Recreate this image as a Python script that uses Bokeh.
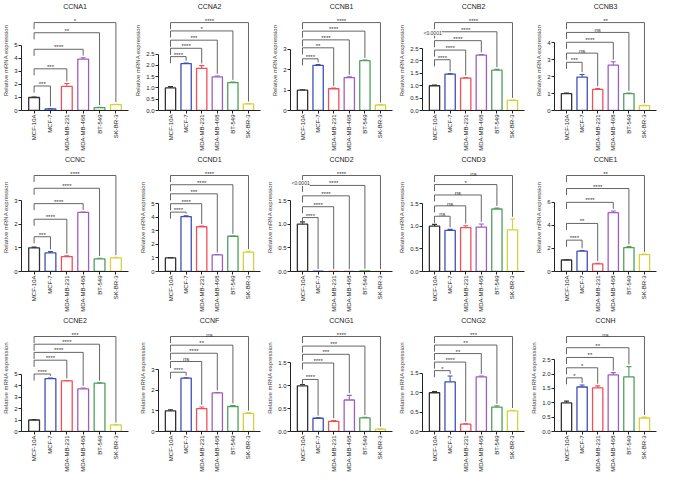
import math
from bokeh.plotting import figure
from bokeh.layouts import gridplot
from bokeh.models import (ColumnDataSource, FixedTicker, NumeralTickFormatter,
                          Label, Range1d, FactorRange)
from bokeh.core.properties import value
from bokeh.embed import file_html
from bokeh.resources import INLINE

cell_lines = ["MCF-10A", "MCF-7", "MDA-MB-231", "MDA-MB-468", "BT-549", "SK-BR-3"]
colors = ["#333333", "#3e4fb8", "#f24e54", "#9d5fbf", "#4ea05a", "#d6d23c"]

genes = ["CCNA1", "CCNA2", "CCNB1", "CCNB2", "CCNB3",
         "CCNC", "CCND1", "CCND2", "CCND3", "CCNE1",
         "CCNE2", "CCNF", "CCNG1", "CCNG2", "CCNH"]

values = {
    "CCNA1": [1.0, 0.12, 1.85, 3.95, 0.22, 0.45],
    "CCNA2": [1.0, 2.08, 1.87, 1.49, 1.24, 0.29],
    "CCNB1": [1.0, 2.22, 1.07, 1.62, 2.45, 0.27],
    "CCNB2": [1.0, 1.47, 1.31, 2.24, 1.63, 0.41],
    "CCNB3": [1.0, 1.97, 1.24, 2.67, 1.0, 0.29],
    "CCNC":  [1.0, 0.79, 0.63, 2.5, 0.53, 0.58],
    "CCND1": [1.0, 4.05, 3.3, 1.22, 2.6, 1.43],
    "CCND2": [1.0, 0.005, 0.004, 0.003, 0.012, 0.003],
    "CCND3": [1.0, 0.91, 0.97, 0.98, 1.38, 0.92],
    "CCNE1": [1.0, 1.76, 0.67, 5.1, 2.08, 1.47],
    "CCNE2": [1.0, 4.59, 4.41, 3.7, 4.2, 0.57],
    "CCNF":  [1.0, 2.58, 1.11, 1.87, 1.21, 0.88],
    "CCNG1": [1.0, 0.29, 0.22, 0.69, 0.3, 0.05],
    "CCNG2": [1.0, 1.28, 0.19, 1.41, 0.63, 0.53],
    "CCNH":  [1.0, 1.55, 1.52, 1.97, 1.9, 0.47],
}

errors = {
    "CCNA1": [0.03, 0.02, 0.22, 0.10, 0.03, 0.03],
    "CCNA2": [0.06, 0.03, 0.12, 0.04, 0.02, 0.01],
    "CCNB1": [0.02, 0.04, 0.03, 0.03, 0.03, 0.01],
    "CCNB2": [0.03, 0.02, 0.02, 0.02, 0.03, 0.01],
    "CCNB3": [0.03, 0.15, 0.06, 0.20, 0.03, 0.01],
    "CCNC":  [0.03, 0.05, 0.03, 0.01, 0.03, 0.02],
    "CCND1": [0.02, 0.06, 0.05, 0.03, 0.02, 0.06],
    "CCND2": [0.05, 0.0, 0.0, 0.0, 0.0, 0.0],
    "CCND3": [0.04, 0.02, 0.04, 0.07, 0.02, 0.24],
    "CCNE1": [0.02, 0.06, 0.04, 0.15, 0.08, 0.05],
    "CCNE2": [0.03, 0.06, 0.02, 0.08, 0.03, 0.01],
    "CCNF":  [0.05, 0.02, 0.08, 0.02, 0.05, 0.03],
    "CCNG1": [0.03, 0.01, 0.02, 0.10, 0.01, 0.01],
    "CCNG2": [0.03, 0.15, 0.01, 0.02, 0.03, 0.02],
    "CCNH":  [0.06, 0.07, 0.07, 0.08, 0.36, 0.03],
}

y_max = {"CCNA1": 5, "CCNA2": 2.5, "CCNB1": 3, "CCNB2": 2.5, "CCNB3": 4,
         "CCNC": 3, "CCND1": 5, "CCND2": 1.5, "CCND3": 1.5, "CCNE1": 6,
         "CCNE2": 5, "CCNF": 3, "CCNG1": 1.5, "CCNG2": 1.5, "CCNH": 2.5}
y_step = {"CCNA1": 1, "CCNA2": 0.5, "CCNB1": 1, "CCNB2": 0.5, "CCNB3": 1,
          "CCNC": 1, "CCND1": 1, "CCND2": 0.5, "CCND3": 0.5, "CCNE1": 2,
          "CCNE2": 1, "CCNF": 1, "CCNG1": 0.5, "CCNG2": 0.5, "CCNH": 0.5}

# significance vs MCF-10A for MCF-7, MDA-MB-231, MDA-MB-468, BT-549, SK-BR-3
sig_labels = {
    "CCNA1": ["***", "***", "****", "**", "*"],
    "CCNA2": ["****", "****", "***", "*", "****"],
    "CCNB1": ["****", "**", "****", "****", "****"],
    "CCNB2": ["****", "****", "****", "****", "****"],
    "CCNB3": ["***", "ns", "****", "ns", "**"],
    "CCNC":  ["***", "****", "****", "****", "****"],
    "CCND1": ["****", "****", "***", "****", "****"],
    "CCND2": ["****", "****", "****", "****", "****"],
    "CCND3": ["ns", "ns", "ns", "*", "ns"],
    "CCNE1": ["****", "**", "****", "****", "**"],
    "CCNE2": ["****", "****", "****", "****", "***"],
    "CCNF":  ["****", "ns", "****", "**", "ns"],
    "CCNG1": ["****", "****", "***", "***", "****"],
    "CCNG2": ["*", "****", "**", "**", "***"],
    "CCNH":  ["*", "*", "**", "**", "ns"],
}
sig_heights = {
    "CCNA1": [1.88, 3.2, 4.7, 5.97, 6.75],
    "CCNA2": [2.39, 2.76, 3.12, 3.53, 3.9],
    "CCNB1": [2.54, 3.08, 3.47, 3.9, 4.32],
    "CCNB2": [2.05, 2.44, 2.82, 3.18, 3.55],
    "CCNB3": [2.84, 3.38, 4.02, 4.6, 5.18],
    "CCNC":  [1.47, 2.21, 2.87, 3.52, 4.06],
    "CCND1": [4.38, 5.0, 5.73, 6.4, 7.08],
    "CCND2": [1.14, 1.37, 1.6, 1.82, 2.03],
    "CCND3": [1.22, 1.45, 1.69, 1.92, 2.12],
    "CCNE1": [2.72, 4.17, 6.0, 7.2, 8.33],
    "CCNE2": [5.0, 6.2, 6.88, 7.59, 8.26],
    "CCNF":  [2.87, 3.39, 3.79, 4.18, 4.6],
    "CCNG1": [1.14, 1.5, 1.69, 1.87, 2.08],
    "CCNG2": [1.57, 1.79, 2.01, 2.23, 2.45],
    "CCNH":  [1.87, 2.22, 2.58, 2.92, 3.31],
}
p_notes = {"CCNB2": ("<0.0001", 3.14), "CCND2": ("<0.0001", 1.87)}

FONT = "Liberation Sans"
row_heights = [153, 161, 160]
col_width = 132


def make_panel(gene, height):
    vals = values[gene]
    errs = errors[gene]
    frame_h = height - 62
    top = max(sig_heights[gene])
    y_end = top * frame_h / (frame_h - 11)
    scale = frame_h / y_end  # px per unit (approx.)

    p = figure(width=col_width, height=height, output_backend="svg",
               toolbar_location=None,
               x_range=FactorRange(*cell_lines, range_padding=0.09),
               y_range=Range1d(0, y_end),
               min_border_left=2, min_border_right=4, min_border_top=0,
               min_border_bottom=1)
    p.title.text = gene
    p.title.align = "center"
    p.title.text_font = FONT
    p.title.text_font_size = "7px"
    p.title.text_font_style = "normal"
    p.title.text_color = "#222222"
    p.title.standoff = 1
    p.outline_line_color = None
    p.xgrid.visible = False
    p.ygrid.visible = False
    p.background_fill_color = "white"

    src = ColumnDataSource(dict(cell=cell_lines, top=vals, color=colors))
    p.vbar(x="cell", top="top", width=0.66, source=src, fill_color="white",
           line_color="color", line_width=1.3)
    keep = [i for i, e in enumerate(errs) if e > 0]
    esrc = ColumnDataSource(dict(
        cell=[cell_lines[i] for i in keep],
        top=[vals[i] for i in keep],
        errtop=[vals[i] + errs[i] for i in keep],
        color=[colors[i] for i in keep]))
    p.segment(x0="cell", y0="top", x1="cell", y1="errtop", source=esrc,
              line_color="color", line_width=1.1)
    p.scatter(x="cell", y="errtop", marker="dash", size=5, source=esrc,
              line_color="color", line_width=1.1)

    # brackets (comparisons against MCF-10A)
    leg = 6.0 / scale
    gap = 2.0 / scale
    xs, ys, tx, ty = [], [], [], []
    x0 = cell_lines.index("MCF-10A") + 0.5
    for i, h in enumerate(sig_heights[gene]):
        j = i + 1
        x1 = j + 0.5
        bottom = vals[j] + errs[j] + gap
        xs.append([x0, x0, x1, x1])
        ys.append([h - leg, h, h, bottom])
        tx.append((x0 + x1) / 2)
        ty.append(h)
    p.multi_line(xs=xs, ys=ys, line_color="#555555", line_width=0.9)
    p.text(x=tx, y=ty, text=sig_labels[gene], text_align="center",
           text_baseline="bottom", text_font_size="6px", y_offset=1,
           text_font=value(FONT), text_color="#333333")

    if gene in p_notes:
        txt, h = p_notes[gene]
        p.add_layout(Label(x=1, x_units="screen", y=h, text=txt,
                           text_align="left", text_baseline="middle",
                           text_font_size="5px", text_font=FONT,
                           text_color="#333333",
                           background_fill_color="white"))

    ticks = []
    t = 0.0
    while t <= y_max[gene] + 1e-9:
        ticks.append(round(t, 3))
        t += y_step[gene]
    p.yaxis.ticker = FixedTicker(ticks=ticks)
    p.yaxis.formatter = NumeralTickFormatter(
        format="0.0" if y_step[gene] < 1 else "0")
    p.yaxis.bounds = (0, y_max[gene])
    p.yaxis.axis_label = "Relative mRNA expression"
    p.yaxis.axis_label_text_font_size = "6px"
    p.yaxis.axis_label_text_font_style = "normal"
    p.yaxis.axis_label_text_font = FONT
    p.yaxis.axis_label_standoff = 2
    for ax in (p.xaxis[0], p.yaxis[0]):
        ax.major_label_text_font_size = "6px"
        ax.major_label_text_font = FONT
        ax.major_label_text_color = "#222222"
        ax.major_tick_out = 3
        ax.major_tick_in = 0
        ax.minor_tick_out = 0
        ax.minor_tick_in = 0
        ax.axis_line_color = "#222222"
        ax.major_tick_line_color = "#222222"
        ax.major_label_standoff = 1
    p.xaxis.major_label_orientation = math.pi / 2
    return p


rows = []
for r in range(3):
    rows.append([make_panel(g, row_heights[r]) for g in genes[r * 5:(r + 1) * 5]])

grid = gridplot(rows, toolbar_location=None)

with open("out.html", "w") as f:
    f.write(file_html(grid, INLINE))
